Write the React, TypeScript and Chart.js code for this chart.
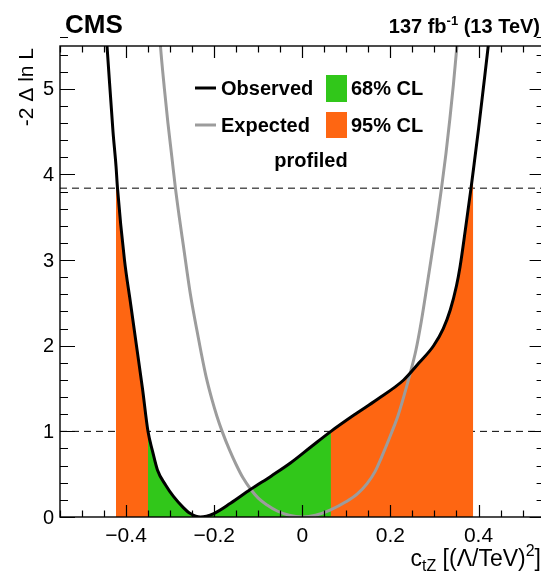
import React, { useEffect, useRef } from "react";
import { Chart, registerables } from "chart.js";

Chart.register(...registerables);

// Observed profiled likelihood scan (-2 Δ ln L vs c_tZ)
const obsX = [-0.450, -0.4433, -0.4297, -0.4229, -0.4195, -0.4036, -0.390, -0.3764, -0.3628, -0.3503, -0.340, -0.3288, -0.310, -0.2925, -0.270, -0.254, -0.2313, -0.201, -0.163, -0.118, -0.070, -0.027, 0.020, 0.065, 0.120, 0.169, 0.230, 0.265, 0.298, 0.320, 0.336, 0.350, 0.358, 0.370, 0.383, 0.388, 0.400, 0.411, 0.4225, 0.428];
const obsY = [5.95, 5.5, 4.5, 4.1, 3.84, 3.0, 2.5, 2.0, 1.5, 1.0, 0.77, 0.55, 0.37, 0.24, 0.11, 0.04, 0.0, 0.04, 0.16, 0.32, 0.48, 0.63, 0.82, 1.0, 1.2, 1.37, 1.6, 1.8, 2.0, 2.2, 2.42, 2.7, 2.92, 3.35, 3.84, 4.04, 4.53, 5.01, 5.52, 5.8];

// Expected scan
const expX = [-0.326, -0.322, -0.313, -0.305, -0.296, -0.288, -0.280, -0.270, -0.254, -0.240, -0.230, -0.218, -0.205, -0.194, -0.182, -0.165, -0.150, -0.135, -0.118, -0.100, -0.080, -0.057, -0.030, 0.0, 0.030, 0.063, 0.100, 0.125, 0.147, 0.165, 0.180, 0.203, 0.217, 0.230, 0.245, 0.258, 0.270, 0.283, 0.295, 0.306, 0.316, 0.326, 0.335, 0.343, 0.351, 0.356];
const expY = [5.8, 5.5, 5.0, 4.6, 4.2, 3.84, 3.53, 3.17, 2.6, 2.2, 1.93, 1.63, 1.37, 1.18, 1.0, 0.78, 0.61, 0.46, 0.33, 0.22, 0.14, 0.07, 0.02, 0.0, 0.02, 0.08, 0.18, 0.27, 0.39, 0.53, 0.7, 0.99, 1.18, 1.4, 1.68, 1.95, 2.28, 2.7, 3.1, 3.47, 3.84, 4.24, 4.65, 5.05, 5.5, 5.8];

// Confidence-level intervals (observed)
const cl68 = [-0.3503, 0.065];
const cl95 = [-0.4229, 0.388];
const thresholds = [1, 3.84];

// Axes
const xRange = [-0.55, 0.55];
const yRange = [0, 5.5];
const xMajorTicks = [-0.4, -0.2, 0, 0.2, 0.4];
const xTickLabels = ["\u22120.4", "\u22120.2", "0", "0.2", "0.4"];
const xMinorStep = 0.05;
const yMajorTicks = [0, 1, 2, 3, 4, 5];
const yTickLabels = ["0", "1", "2", "3", "4", "5"];
const yMinorStep = 0.2;

const GREEN = "#31c71a";
const ORANGE = "#fe6612";
const GRAY = "#9c9c9c";
const FONT = "'Liberation Sans', Arial, Helvetica, sans-serif";

function band(lo: number, hi: number) {
  const pts: { x: number; y: number }[] = [];
  for (let i = 0; i < obsX.length; i++) {
    if (obsX[i] >= lo - 1e-9 && obsX[i] <= hi + 1e-9) pts.push({ x: obsX[i], y: obsY[i] });
  }
  return pts;
}

const decor = {
  id: "decor",
  afterDraw(chart: any) {
    const { ctx, chartArea: a, scales } = chart;
    const xs = scales.x;
    const ys = scales.y;
    ctx.save();
    // frame
    ctx.strokeStyle = "#000";
    ctx.lineWidth = 1.4;
    ctx.strokeRect(a.left, a.top, a.right - a.left, a.bottom - a.top);

    // x ticks (bottom and top)
    ctx.lineWidth = 1.2;
    const nx = Math.round((xRange[1] - xRange[0]) / xMinorStep);
    for (let i = 0; i <= nx; i++) {
      const v = xRange[0] + i * xMinorStep;
      const major = xMajorTicks.some((t) => Math.abs(t - v) < 1e-6);
      const len = major ? 12 : 6.5;
      const px = Math.round(xs.getPixelForValue(v)) + 0.5;
      ctx.beginPath();
      ctx.moveTo(px, a.bottom);
      ctx.lineTo(px, a.bottom - len);
      ctx.moveTo(px, a.top);
      ctx.lineTo(px, a.top + len);
      ctx.stroke();
    }
    // y ticks (left and right)
    const ny = Math.round((yRange[1] - yRange[0]) / yMinorStep);
    for (let i = 0; i <= ny; i++) {
      const v = yRange[0] + i * yMinorStep;
      const major = yMajorTicks.some((t) => Math.abs(t - v) < 1e-6);
      const len = major ? 15 : 8;
      const py = Math.round(ys.getPixelForValue(v)) + 0.5;
      ctx.beginPath();
      ctx.moveTo(a.left, py);
      ctx.lineTo(a.left + len, py);
      ctx.moveTo(a.right, py);
      ctx.lineTo(a.right - len, py);
      ctx.stroke();
    }

    ctx.fillStyle = "#000";
    // x tick labels
    ctx.font = `21px ${FONT}`;
    ctx.textAlign = "center";
    ctx.textBaseline = "alphabetic";
    xMajorTicks.forEach((t, i) => {
      ctx.fillText(xTickLabels[i], xs.getPixelForValue(t), a.bottom + 25);
    });
    // y tick labels
    ctx.font = `20px ${FONT}`;
    ctx.textAlign = "right";
    ctx.textBaseline = "middle";
    yMajorTicks.forEach((t, i) => {
      ctx.fillText(yTickLabels[i], a.left - 6, ys.getPixelForValue(t) + 1);
    });

    // y title (rotated, aligned to top)
    ctx.save();
    ctx.translate(33, a.top + 2);
    ctx.rotate(-Math.PI / 2);
    ctx.font = `21px ${FONT}`;
    ctx.textAlign = "right";
    ctx.textBaseline = "alphabetic";
    ctx.fillText("-2 \u0394 ln L", 0, 0);
    ctx.restore();

    // x title with sub/superscript, right aligned
    const parts: [string, string, number][] = [
      ["c", `23px ${FONT}`, 0],
      ["tZ", `16px ${FONT}`, 5],
      [" [(\u039B/TeV)", `23px ${FONT}`, 0],
      ["2", `16px ${FONT}`, -10],
      ["]", `23px ${FONT}`, 0],
    ];
    ctx.textAlign = "left";
    ctx.textBaseline = "alphabetic";
    let tw = 0;
    parts.forEach(([s, f]) => {
      ctx.font = f;
      tw += ctx.measureText(s).width;
    });
    let cx = 541 - tw;
    parts.forEach(([s, f, dy]) => {
      ctx.font = f;
      ctx.fillText(s, cx, 566 + dy);
      cx += ctx.measureText(s).width;
    });

    // CMS label
    ctx.font = `bold 26px ${FONT}`;
    ctx.fillText("CMS", 65, 33);

    // luminosity label
    const lum: [string, string, number][] = [
      ["137 fb", `bold 20px ${FONT}`, 0],
      ["-1", `bold 13px ${FONT}`, -8],
      [" (13 TeV)", `bold 20px ${FONT}`, 0],
    ];
    tw = 0;
    lum.forEach(([s, f]) => {
      ctx.font = f;
      tw += ctx.measureText(s).width;
    });
    cx = 540 - tw;
    lum.forEach(([s, f, dy]) => {
      ctx.font = f;
      ctx.fillText(s, cx, 33 + dy);
      cx += ctx.measureText(s).width;
    });

    // legend
    ctx.lineWidth = 3;
    ctx.strokeStyle = "#000";
    ctx.beginPath();
    ctx.moveTo(195, 88);
    ctx.lineTo(216, 88);
    ctx.stroke();
    ctx.strokeStyle = GRAY;
    ctx.beginPath();
    ctx.moveTo(195, 125);
    ctx.lineTo(216, 125);
    ctx.stroke();
    ctx.fillStyle = GREEN;
    ctx.fillRect(326, 75, 21, 27);
    ctx.fillStyle = ORANGE;
    ctx.fillRect(326, 112, 21, 26);
    ctx.fillStyle = "#000";
    ctx.font = `bold 20px ${FONT}`;
    ctx.textBaseline = "middle";
    ctx.textAlign = "left";
    ctx.fillText("Observed", 221, 89);
    ctx.fillText("Expected", 221, 126);
    ctx.fillText("68% CL", 351, 89);
    ctx.fillText("95% CL", 351, 126);
    ctx.textAlign = "center";
    ctx.fillText("profiled", 311, 161);
    ctx.restore();
  },
};

export default function App() {
  const ref = useRef<HTMLCanvasElement>(null);
  useEffect(() => {
    const obs = obsX.map((x, i) => ({ x, y: obsY[i] }));
    const exp = expX.map((x, i) => ({ x, y: expY[i] }));
    const chart = new Chart(ref.current as HTMLCanvasElement, {
      type: "line",
      data: {
        datasets: [
          ...thresholds.map((t) => ({
            data: [
              { x: xRange[0], y: t },
              { x: xRange[1], y: t },
            ],
            borderColor: "#000",
            borderWidth: 1,
            borderDash: [7, 5],
            pointRadius: 0,
            fill: false,
            order: 10,
          })),
          {
            data: band(cl95[0], cl95[1]),
            borderColor: "rgba(0,0,0,0)",
            borderWidth: 0,
            backgroundColor: ORANGE,
            fill: "origin",
            pointRadius: 0,
            cubicInterpolationMode: "monotone",
            order: 5,
          },
          {
            data: band(cl68[0], cl68[1]),
            borderColor: "rgba(0,0,0,0)",
            borderWidth: 0,
            backgroundColor: GREEN,
            fill: "origin",
            pointRadius: 0,
            cubicInterpolationMode: "monotone",
            order: 4,
          },
          {
            data: exp,
            borderColor: GRAY,
            borderWidth: 3,
            pointRadius: 0,
            fill: false,
            cubicInterpolationMode: "monotone",
            order: 2,
          },
          {
            data: obs,
            borderColor: "#000",
            borderWidth: 3,
            pointRadius: 0,
            fill: false,
            cubicInterpolationMode: "monotone",
            order: 1,
          },
        ] as any,
      },
      options: {
        animation: false,
        responsive: false,
        maintainAspectRatio: false,
        devicePixelRatio: 1,
        parsing: false,
        layout: { padding: { left: 60, top: 46, right: 15.4, bottom: 58 } },
        scales: {
          x: { type: "linear", min: xRange[0], max: xRange[1], display: false },
          y: { type: "linear", min: yRange[0], max: yRange[1], display: false },
        },
        plugins: {
          legend: { display: false },
          tooltip: { enabled: false },
        },
      } as any,
      plugins: [decor],
    });
    return () => chart.destroy();
  }, []);
  return (
    <div
      style={{
        position: "fixed",
        left: 0,
        top: 0,
        width: 541,
        height: 575,
        overflow: "hidden",
        background: "#fff",
      }}
    >
      <canvas ref={ref} width={560} height={575} style={{ display: "block", width: 560, height: 575 }} />
    </div>
  );
}
